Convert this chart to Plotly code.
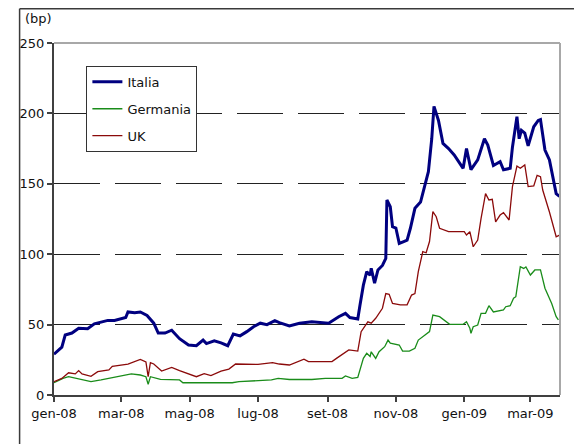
import plotly.graph_objects as go

# ---------------- data ----------------
italia_dates = [
    "2008-01-01", "2008-01-05", "2008-01-08", "2008-01-11", "2008-01-17", "2008-01-23", "2008-01-31",
    "2008-02-06", "2008-02-13", "2008-02-18", "2008-02-24", "2008-03-01", "2008-03-05", "2008-03-07",
    "2008-03-13", "2008-03-18", "2008-03-24", "2008-03-30", "2008-04-03", "2008-04-09", "2008-04-15",
    "2008-04-22", "2008-04-30", "2008-05-07", "2008-05-13", "2008-05-16", "2008-05-23", "2008-05-29",
    "2008-06-04", "2008-06-09", "2008-06-15", "2008-06-21", "2008-06-27", "2008-07-03", "2008-07-09",
    "2008-07-16", "2008-07-20", "2008-07-29", "2008-08-07", "2008-08-18", "2008-08-30", "2008-09-02",
    "2008-09-11", "2008-09-17", "2008-09-21", "2008-09-28", "2008-09-30", "2008-10-03", "2008-10-06",
    "2008-10-09", "2008-10-10", "2008-10-13", "2008-10-16", "2008-10-20", "2008-10-23", "2008-10-24",
    "2008-10-27", "2008-10-29", "2008-11-01", "2008-11-04", "2008-11-08", "2008-11-11", "2008-11-14",
    "2008-11-18", "2008-11-23", "2008-11-27", "2008-11-30", "2008-12-03", "2008-12-05", "2008-12-09",
    "2008-12-13", "2008-12-18", "2008-12-23", "2008-12-31", "2009-01-03", "2009-01-07", "2009-01-13",
    "2009-01-19", "2009-01-22", "2009-01-27", "2009-02-02", "2009-02-05", "2009-02-11", "2009-02-13",
    "2009-02-17", "2009-02-19", "2009-02-21", "2009-02-24", "2009-02-27", "2009-03-04", "2009-03-08",
    "2009-03-10", "2009-03-14", "2009-03-18", "2009-03-21", "2009-03-24", "2009-03-27",
]
italia_values = [
    29, 32, 34, 42.6, 44, 47.4, 47,
    50.5, 52, 53, 53, 54, 55, 59,
    58.5, 59, 56.5, 51, 44, 44, 46,
    40, 35.5, 35, 39, 36.5, 38.5, 37,
    35, 43.3, 42, 45, 48.5, 51, 50,
    52.8, 51.4, 49, 51, 52, 51.4, 51,
    55.6, 58, 55, 54, 64, 78, 87.6,
    85, 90, 79.5, 88.8, 92, 97, 138.5,
    133.7, 119.5, 118.6, 107.7, 109, 110, 118.6,
    132.6, 137, 149, 158.6, 182, 205, 195,
    178.7, 175, 170.5, 161, 175, 160, 167,
    182, 177.5, 163, 165.7, 160, 161, 176,
    197.7, 182, 188, 186, 177, 190.5, 195,
    195.6, 174, 167, 155, 143, 141,
]

germania_dates = [
    "2008-01-01", "2008-01-09", "2008-01-14", "2008-01-26", "2008-02-03", "2008-02-12", "2008-02-24",
    "2008-03-10", "2008-03-18", "2008-03-23", "2008-03-25", "2008-03-27", "2008-04-05", "2008-04-22",
    "2008-04-25", "2008-06-08", "2008-06-14", "2008-07-01", "2008-07-13", "2008-07-19", "2008-07-29",
    "2008-08-18", "2008-08-30", "2008-09-14", "2008-09-17", "2008-09-23", "2008-09-28", "2008-10-03",
    "2008-10-06", "2008-10-09", "2008-10-10", "2008-10-14", "2008-10-17", "2008-10-22", "2008-10-25",
    "2008-10-27", "2008-11-04", "2008-11-07", "2008-11-13", "2008-11-18", "2008-11-21", "2008-11-27",
    "2008-12-01", "2008-12-04", "2008-12-10", "2008-12-19", "2008-12-31", "2009-01-03", "2009-01-06",
    "2009-01-07", "2009-01-09", "2009-01-13", "2009-01-16", "2009-01-20", "2009-01-23", "2009-01-27",
    "2009-02-05", "2009-02-07", "2009-02-11", "2009-02-14", "2009-02-16", "2009-02-20", "2009-02-23",
    "2009-02-25", "2009-03-01", "2009-03-05", "2009-03-10", "2009-03-14", "2009-03-20", "2009-03-24",
    "2009-03-26",
]
germania_values = [
    8.7, 11.8, 13, 10.7, 9.5, 10.7, 12.5,
    15, 14.2, 13, 7.6, 13, 11.1, 10.7,
    8.7, 8.7, 9.5, 10, 10.7, 11.8, 11,
    11, 11.8, 11.8, 13.5, 11.8, 12.5, 26,
    29.6, 27.4, 30.7, 26, 30.7, 34.3, 39,
    36.8, 35.5, 31.2, 31.2, 33.2, 39, 42.6,
    45, 56.8, 55.6, 50.2, 50.2, 52, 47.4,
    43.8, 48.5, 49.7, 58, 58, 63.4, 59,
    60.4, 62.7, 63.4, 68.7, 69.8, 91.1, 89.9,
    91, 85.2, 88.8, 88.8, 75.8, 65, 55.6,
    53.3,
]

uk_dates = [
    "2008-01-01", "2008-01-08", "2008-01-14", "2008-01-20", "2008-01-23", "2008-01-26", "2008-02-03",
    "2008-02-09", "2008-02-19", "2008-02-22", "2008-03-07", "2008-03-18", "2008-03-23", "2008-03-25",
    "2008-03-27", "2008-03-30", "2008-04-06", "2008-04-15", "2008-04-22", "2008-04-28", "2008-05-07",
    "2008-05-14", "2008-05-20", "2008-05-29", "2008-06-05", "2008-06-11", "2008-07-01", "2008-07-14",
    "2008-07-20", "2008-07-29", "2008-08-07", "2008-08-11", "2008-08-15", "2008-08-30", "2008-09-05",
    "2008-09-09", "2008-09-20", "2008-09-28", "2008-10-01", "2008-10-07", "2008-10-10", "2008-10-14",
    "2008-10-20", "2008-10-23", "2008-10-26", "2008-10-29", "2008-11-05", "2008-11-11", "2008-11-15",
    "2008-11-18", "2008-11-21", "2008-11-25", "2008-11-28", "2008-12-01", "2008-12-04", "2008-12-07",
    "2008-12-10", "2008-12-18", "2008-12-26", "2009-01-01", "2009-01-03", "2009-01-06", "2009-01-09",
    "2009-01-13", "2009-01-16", "2009-01-20", "2009-01-23", "2009-01-26", "2009-01-29", "2009-02-02",
    "2009-02-05", "2009-02-10", "2009-02-13", "2009-02-17", "2009-02-20", "2009-02-24", "2009-02-27",
    "2009-03-04", "2009-03-07", "2009-03-10", "2009-03-12", "2009-03-18", "2009-03-24", "2009-03-27",
]
uk_values = [
    9.5, 11.8, 15.8, 15, 17.3, 15, 13.3,
    16.6, 17.8, 20.3, 22, 25.3, 23.5, 13,
    23, 22, 17, 19.6, 17.3, 15.4, 13,
    15.2, 13.8, 17, 18.4, 22, 21.7, 23,
    22, 21.3, 24.4, 25.5, 23.7, 23.7, 23.7,
    26, 32, 31.2, 45, 52, 51, 54.5,
    61.6, 72, 71.5, 65, 64, 64, 71,
    72, 87.6, 101.8, 101, 109, 130.2, 126.6,
    118.4, 116, 116, 116, 113.6, 116, 105.3,
    110, 125.5, 143, 138.5, 139, 123, 127.8,
    129.5, 124.3, 148, 162.6, 161, 163.4, 148,
    148.5, 156, 155, 145.6, 130, 112.4, 113.6,
]

tick_dates = ["2008-01-01", "2008-03-01", "2008-05-01", "2008-07-01", "2008-09-01",
              "2008-11-01", "2009-01-01", "2009-03-01"]
tick_labels = ["gen-08", "mar-08", "mag-08", "lug-08", "set-08", "nov-08", "gen-09", "mar-09"]
y_ticks = [0, 50, 100, 150, 200, 250]

# ---------------- figure ----------------
FONT = "DejaVu Sans"
fig = go.Figure()
fig.add_trace(go.Scatter(x=italia_dates, y=italia_values, mode="lines", name="Italia",
                         legendgroup="a", line=dict(color="#000080", width=3)))
fig.add_trace(go.Scatter(x=germania_dates, y=germania_values, mode="lines", name="Germania",
                         legendgroup="b", line=dict(color="#1a8c1a", width=1.3)))
fig.add_trace(go.Scatter(x=uk_dates, y=uk_values, mode="lines", name="UK",
                         legendgroup="c", line=dict(color="#8b0a0a", width=1.3)))

fig.update_layout(
    width=582, height=444,
    margin=dict(l=37, r=30, t=35, b=57),
    paper_bgcolor="white", plot_bgcolor="white",
    font=dict(family=FONT, size=13, color="#111111"),
    showlegend=True,
    legend=dict(x=0.064, y=0.935, xanchor="left", yanchor="top",
                bgcolor="white", bordercolor="#333333", borderwidth=1,
                font=dict(family=FONT, size=13, color="#111111"),
                traceorder="grouped", tracegroupgap=7, itemwidth=30),
    xaxis=dict(type="date", range=["2008-01-01", "2009-03-27 10:00"],
               tickvals=tick_dates, ticktext=tick_labels,
               ticks="outside", ticklen=5, tickwidth=1.5, tickcolor="#404040",
               showline=True, linecolor="#404040", linewidth=2,
               showgrid=False, zeroline=False,
               tickfont=dict(family=FONT, size=13, color="#111111")),
    yaxis=dict(range=[0, 250], tickvals=y_ticks,
               ticks="outside", ticklen=5, tickwidth=1.5, tickcolor="#404040",
               showline=True, linecolor="#404040", linewidth=2,
               showgrid=True, gridcolor="#222222", gridwidth=1, griddash="46px,15px",
               zeroline=False,
               tickfont=dict(family=FONT, size=13, color="#111111")),
    annotations=[dict(text="(bp)", x=-0.062, y=1.071, xref="paper", yref="paper",
                      xanchor="left", yanchor="middle", showarrow=False,
                      font=dict(family=FONT, size=13, color="#111111"))],
    shapes=[
        # plot area top and right border (grey)
        dict(type="line", xref="paper", yref="paper", x0=0, x1=1, y0=1, y1=1,
             line=dict(color="#a8a8a8", width=2)),
        dict(type="line", xref="paper", yref="paper", x0=1, x1=1, y0=0, y1=1,
             line=dict(color="#a8a8a8", width=2)),
        # outer chart frame (left and top visible)
        dict(type="line", xref="paper", yref="paper", x0=-0.068, x1=-0.068, y0=-0.2, y1=1.097,
             line=dict(color="#3a3a3a", width=1.5)),
        dict(type="line", xref="paper", yref="paper", x0=-0.068, x1=1.1, y0=1.097, y1=1.097,
             line=dict(color="#3a3a3a", width=1.5)),
    ],
)

fig.write_html("out.html")
